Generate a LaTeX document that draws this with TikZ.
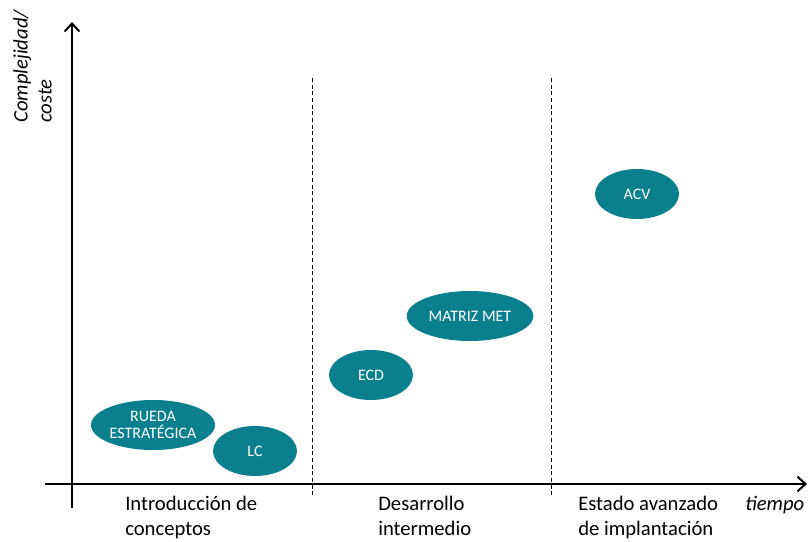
\documentclass[tikz,border=0pt]{standalone}
\usepackage{fontspec}
\setmainfont{Carlito}
\usetikzlibrary{shapes.geometric,arrows.meta}
\definecolor{teal1}{HTML}{0A7F8E}
\begin{document}
\begin{tikzpicture}[x=0.75pt,y=-0.75pt,
  blob/.style={ellipse,fill=teal1,draw=none,text=white,inner sep=0pt,
    minimum height=37.5pt,font=\fontsize{12}{14}\selectfont,align=center},
  axis/.style={line width=1.5pt,-{Straight Barb[length=6pt,width=11pt,line width=1.5pt]}},
  sep/.style={dashed,line width=0.6pt,dash pattern=on 3pt off 2pt},
  lab/.style={anchor=north west,align=left,inner sep=0pt,font=\fontsize{15.5}{19}\selectfont}]
\useasboundingbox (0,0) rectangle (810,542);
\coordinate (yb) at (72,508);
\coordinate (yt) at (72,22);
\coordinate (xl) at (45,484);
\coordinate (xr) at (807,484);
\draw[axis] (yb) -- (yt);
\draw[axis] (xl) -- (xr);
\coordinate (d1t) at (312,78);
\coordinate (d1b) at (312,497);
\coordinate (d2t) at (551,78);
\coordinate (d2b) at (551,497);
\draw[sep] (d1t) -- (d1b);
\draw[sep] (d2t) -- (d2b);
\node[blob,minimum width=93pt] (rueda) at (153,425) {RUEDA\\[-1pt]ESTRATÉGICA};
\node[blob,minimum width=63pt] (lc) at (255,451) {LC};
\node[blob,minimum width=63pt] (ecd) at (371,375) {ECD};
\node[blob,minimum width=95pt] (matriz) at (470,316) {MATRIZ MET};
\node[blob,minimum width=63pt] (acv) at (637,194) {ACV};
\node[lab] (l1) at (125,496) {Introducción de\\conceptos};
\node[lab] (l2) at (378,496) {Desarrollo\\intermedio};
\node[lab] (l3) at (578,496) {Estado avanzado\\de implantación};
\node[lab,font=\fontsize{15.5}{19}\selectfont\itshape] (tx) at (745,496) {tiempo};
\node[rotate=90,anchor=north west,align=left,inner sep=0pt,
  font=\fontsize{15.5}{18}\selectfont\itshape] (ty) at (13,123) {Complejidad/\\\hspace*{0pt}coste};
\end{tikzpicture}
\end{document}
